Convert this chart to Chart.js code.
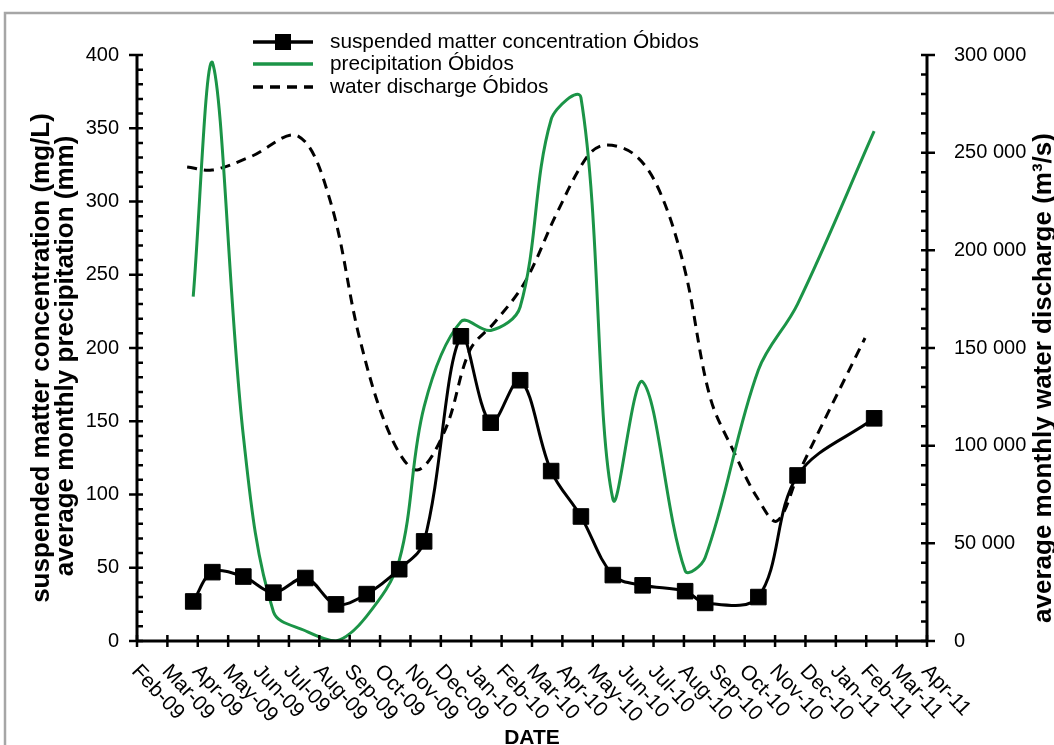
<!DOCTYPE html>
<html>
<head>
<meta charset="utf-8">
<script src="https://cdn.jsdelivr.net/npm/chart.js@4.4.1/dist/chart.umd.min.js"></script>
<style>
  html, body { margin: 0; background: #fff; }
  #wrap { position: relative; width: 1054px; height: 745px; }
</style>
</head>
<body>
<div id="wrap"><canvas id="chart"></canvas></div>
<script>
// month ticks, index 0 = Feb-09
const monthLabels = ["Feb-09", "Mar-09", "Apr-09", "May-09", "Jun-09", "Jul-09", "Aug-09", "Sep-09", "Oct-09",
  "Nov-09", "Dec-09", "Jan-10", "Feb-10", "Mar-10", "Apr-10", "May-10", "Jun-10", "Jul-10", "Aug-10", "Sep-10",
  "Oct-10", "Nov-10", "Dec-10", "Jan-11", "Feb-11", "Mar-11", "Apr-11"];

// sampling dates, in months after 1 Feb 2009
const sampleMonths = [1.85, 2.48, 3.50, 4.49, 5.54, 6.55, 7.56, 8.63, 9.45, 10.66, 11.64, 12.61, 13.63, 14.61,
  15.66, 16.64, 18.04, 18.70, 20.45, 21.74, 24.26];
const suspendedMatter = [27, 47, 44, 33, 43, 25, 32, 49, 68, 208, 149, 178, 116, 85, 45, 38, 34, 26, 30, 113, 152];
const precipitation = [235, 395, 140, 20, 7, 0, 17, 55, 160, 218, 212, 228, 356, 371, 97, 177, 48, 57, 185, 230, 348];

// discharge curve
const dischargeMonths = [1.65, 2.47, 3.72, 5.30, 6.35, 7.34, 8.33, 9.22, 10.14, 10.96, 11.78, 12.77, 13.82, 14.81,
  15.40, 16.39, 17.21, 18.03, 18.86, 19.68, 20.40, 21.06, 21.82, 23.96];
const waterDischarge = [242700, 241100, 247800, 258500, 225800, 154100, 105500, 87500, 108000, 149000, 163300,
  183800, 219100, 247800, 253900, 248800, 229900, 190000, 124900, 95700, 73700, 61400, 87500, 155100];

const FONT = '"Liberation Sans", Arial, sans-serif';
const GREEN = "#1b9447";

const pts = (xs, ys) => xs.map((x, i) => ({ x, y: ys[i] }));
const fmtSpace = (v) => String(v).replace(/\B(?=(\d{3})+(?!\d))/g, " ");

const decorations = {
  id: "decorations",
  beforeDraw(chart) {
    const { ctx, width, height } = chart;
    ctx.save();
    ctx.fillStyle = "#fff";
    ctx.fillRect(0, 0, width, height);
    ctx.strokeStyle = "#a6a6a6";
    ctx.lineWidth = 2.5;
    ctx.beginPath();
    ctx.moveTo(5, height);
    ctx.lineTo(5, 13);
    ctx.lineTo(width, 13);
    ctx.stroke();
    ctx.restore();
  },
  afterDatasetsDraw(chart) {
    const { ctx, scales } = chart;
    const { x, y, y1 } = scales;
    const left = x.getPixelForValue(0), right = x.getPixelForValue(26);
    const top = y.getPixelForValue(400), bottom = y.getPixelForValue(0);
    ctx.save();
    ctx.strokeStyle = "#000";
    ctx.lineWidth = 3;
    ctx.beginPath();
    ctx.moveTo(left, top); ctx.lineTo(left, bottom);
    ctx.moveTo(left, bottom); ctx.lineTo(right, bottom);
    ctx.moveTo(right, y1.getPixelForValue(300000)); ctx.lineTo(right, bottom);
    ctx.stroke();
    ctx.lineWidth = 2.5;
    ctx.beginPath();
    for (let v = 0; v <= 400; v += 10) {
      const py = y.getPixelForValue(v);
      ctx.moveTo(v % 50 === 0 ? left - 8 : left, py);
      ctx.lineTo(left + 6, py);
    }
    for (let v = 0; v <= 300000; v += 10000) {
      const py = y1.getPixelForValue(v);
      ctx.moveTo(right - 6, py);
      ctx.lineTo(v % 50000 === 0 ? right + 8 : right, py);
    }
    monthLabels.forEach((_, i) => {
      const px = x.getPixelForValue(i);
      ctx.moveTo(px, bottom - 6);
      ctx.lineTo(px, bottom + 6);
    });
    ctx.stroke();
    ctx.restore();
  },
  afterDraw(chart) {
    const { ctx, scales } = chart;
    const { x, y } = scales;
    const bottom = y.getPixelForValue(0);
    ctx.save();
    ctx.fillStyle = "#000";

    // rotated month labels
    ctx.font = "21px " + FONT;
    ctx.textAlign = "left";
    ctx.textBaseline = "middle";
    monthLabels.forEach((label, i) => {
      ctx.save();
      ctx.translate(x.getPixelForValue(i) - 2, bottom + 27);
      ctx.rotate(47 * Math.PI / 180);
      ctx.fillText(label, 0, 0);
      ctx.restore();
    });

    // axis titles
    ctx.font = "bold 21px " + FONT;
    ctx.textAlign = "center";
    ctx.textBaseline = "alphabetic";
    ctx.fillText("DATE", (x.left + x.right) / 2, 744);
    const vText = (text, px, py, baseline) => {
      ctx.save();
      ctx.translate(px, py);
      ctx.rotate(-Math.PI / 2);
      ctx.textBaseline = baseline;
      ctx.fillText(text, 0, 0);
      ctx.restore();
    };
    ctx.font = "bold 26px " + FONT;
    vText("suspended matter concentration (mg/L)", 42, 358, "middle");
    vText("average monthly precipitation (mm)", 66, 356, "middle");
    vText("average monthly water discharge (m³/s)", 1051, 378, "alphabetic");

    // legend
    const ds = chart.data.datasets;
    ctx.font = "20.8px " + FONT;
    ctx.textAlign = "left";
    ctx.textBaseline = "middle";
    [42, 64, 87].forEach((ly, i) => {
      const d = ds[i];
      ctx.save();
      ctx.strokeStyle = d.borderColor;
      ctx.lineWidth = 3.5;
      ctx.setLineDash(d.borderDash || []);
      ctx.beginPath();
      ctx.moveTo(253, ly);
      ctx.lineTo(313, ly);
      ctx.stroke();
      if (d.pointRadius) {
        ctx.fillStyle = d.pointBackgroundColor;
        ctx.fillRect(275, ly - 8, 16, 16);
      }
      ctx.restore();
      ctx.fillText(d.label, 330, ly);
    });
    ctx.restore();
  }
};

new Chart(document.getElementById("chart"), {
  type: "line",
  data: {
    datasets: [
      {
        label: "suspended matter concentration Óbidos",
        data: pts(sampleMonths, suspendedMatter),
        yAxisID: "y",
        borderColor: "#000",
        borderWidth: 3,
        pointStyle: "rect",
        pointRadius: 11,
        pointBackgroundColor: "#000",
        pointBorderColor: "#000",
        pointBorderWidth: 1,
        tension: 0.35
      },
      {
        label: "precipitation Óbidos",
        data: pts(sampleMonths, precipitation),
        yAxisID: "y",
        borderColor: GREEN,
        borderWidth: 3,
        pointRadius: 0,
        tension: 0.35
      },
      {
        label: "water discharge Óbidos",
        data: pts(dischargeMonths, waterDischarge),
        yAxisID: "y1",
        borderColor: "#000",
        borderWidth: 3,
        borderDash: [10, 7],
        pointRadius: 0,
        tension: 0.35
      }
    ]
  },
  options: {
    responsive: true,
    maintainAspectRatio: false,
    animation: false,
    layout: { padding: { top: 55, left: 0, right: 0, bottom: 0 } },
    plugins: { legend: { display: false }, tooltip: { enabled: false } },
    scales: {
      x: {
        type: "linear",
        min: 0,
        max: 26,
        ticks: { display: false },
        grid: { display: false, drawTicks: false },
        border: { display: false },
        afterFit: (s) => { s.height = 104; }
      },
      y: {
        position: "left",
        min: 0,
        max: 400,
        ticks: { stepSize: 50, padding: 18, color: "#000", font: { family: FONT, size: 20 } },
        grid: { display: false, drawTicks: false },
        border: { display: false },
        afterFit: (s) => { s.width = 137; }
      },
      y1: {
        position: "right",
        min: 0,
        max: 300000,
        ticks: {
          stepSize: 50000, padding: 27, color: "#000", font: { family: FONT, size: 20 },
          callback: (v) => fmtSpace(v)
        },
        grid: { display: false, drawTicks: false },
        border: { display: false },
        afterFit: (s) => { s.width = 127; }
      }
    }
  },
  plugins: [decorations]
});
</script>
</body>
</html>
